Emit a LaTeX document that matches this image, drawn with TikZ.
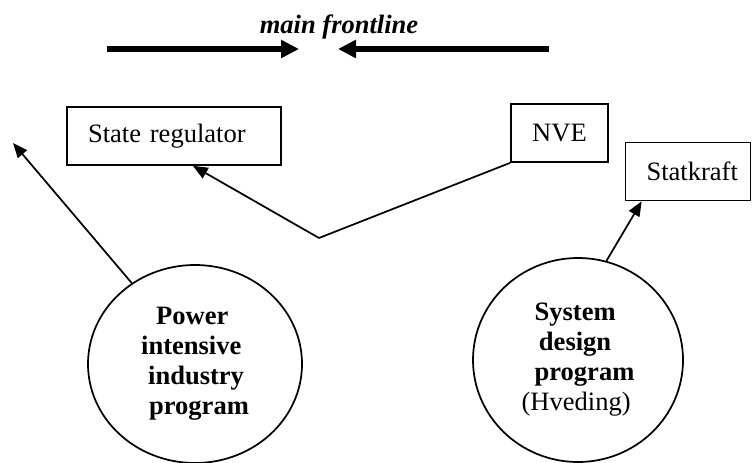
\documentclass[tikz,border=0pt]{standalone}
\usepackage{fontspec}
\setmainfont{Liberation Serif}
\usetikzlibrary{arrows.meta,shapes.geometric}
\tikzset{
  boxnode/.style={draw, line width=1.3pt, inner xsep=0pt, inner ysep=0pt,
    minimum height=43.5pt, align=left, font=\fontsize{19.9}{23}\selectfont},
  prognode/.style={draw, ellipse, line width=1.3pt, inner sep=0pt, align=left,
    font=\fontsize{19.9}{22.5}\selectfont\bfseries},
  connarrow/.style={line width=1.3pt, -{Triangle[length=11pt,width=9pt]}},
  connline/.style={line width=1.3pt},
  frontarrow/.style={line width=4.5pt, -{Triangle[length=13.5pt,width=13pt]}},
}
\begin{document}
\begin{tikzpicture}[x=0.75pt,y=-0.75pt]
\useasboundingbox (0,0) rectangle (752,463);

\node[font=\fontsize{19.9}{23}\selectfont\bfseries\itshape, anchor=base] (title) at (339,34) {main frontline};

\coordinate (fl1) at (107,49);
\coordinate (fl2) at (299,49);
\coordinate (fr1) at (549,49);
\coordinate (fr2) at (338,49);
\draw[frontarrow] (fl1) -- (fl2);
\draw[frontarrow] (fr1) -- (fr2);

\node[boxnode, text width=160.5pt] (sr) at (174,136) {\hspace*{15.75pt}State regulator};
\node[boxnode, text width=72.75pt, align=center] (nve) at (559.5,133) {NVE};
\node[boxnode, text width=93.75pt] (sk) at (688,171.5) {\hspace*{15.75pt}Statkraft};

\node[prognode, minimum width=160.5pt, minimum height=148.5pt] (lc) at (195,364)
  {\hspace*{11.25pt}Power\\intensive\\\hspace*{5.25pt}industry\\\hspace*{6pt}program};
\node[prognode, minimum width=157.5pt, minimum height=153pt] (rc) at (578,360)
  {\hspace*{9.75pt}System\\\hspace*{13pt}design\\\hspace*{9.75pt}program\\\mdseries(Hveding)};

\coordinate (lt) at (13,143);
\coordinate (vtx) at (319,238);
\draw[connarrow] (lc.128) -- (lt);
\draw[connline] (nve.south west) -- (vtx);
\draw[connarrow] (vtx) -- ([xshift=14.25pt]sr.south);
\draw[connarrow] (rc.74) -- ([xshift=12.75pt]sk.south west);
\end{tikzpicture}
\end{document}
